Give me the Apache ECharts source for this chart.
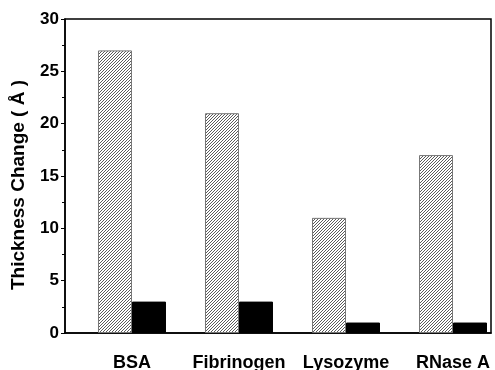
<!DOCTYPE html>
<html>
<head>
<meta charset="utf-8">
<script src="https://cdn.jsdelivr.net/npm/echarts@6/dist/echarts.min.js"></script>
<style>html,body{margin:0;padding:0;background:#fff}#c{width:495px;height:370px}</style>
</head>
<body>
<div id="c"></div>
<script>
const categories = ['BSA', 'Fibrinogen', 'Lysozyme', 'RNase A'];
const hatchedValues = [27, 21, 11, 17];
const solidValues = [3, 3, 1, 1];
const yTicks = [0, 5, 10, 15, 20, 25, 30];

const catPos = categories.map((c, i) => i + 1);

// hatch pattern tile
const tile = document.createElement('canvas');
tile.width = 3; tile.height = 3;
const tc = tile.getContext('2d');
tc.fillStyle = '#ffffff';
tc.fillRect(0, 0, 3, 3);
tc.fillStyle = '#5a5a5a';
for (let i = 0; i < 3; i++) tc.fillRect(i, 2 - i, 1, 1);

const font = '"Liberation Sans", Arial, Helvetica, sans-serif';
const chart = echarts.init(document.getElementById('c'));
chart.setOption({
  animation: false,
  grid: { left: 65, top: 19, right: 4, bottom: 37, containLabel: false, outerBoundsMode: 'none',
          show: true, borderColor: '#000', borderWidth: 1.5, backgroundColor: 'transparent' },
  xAxis: {
    type: 'value', min: 0.374, max: 4.355,
    splitLine: { show: false },
    axisLine: { show: true, lineStyle: { color: '#000', width: 1.5 } },
    axisTick: { show: false },
    axisLabel: {
      customValues: catPos,
      formatter: v => categories[Math.round(v) - 1] || '',
      margin: 21, fontSize: 18, fontWeight: 'bold', color: '#000', fontFamily: font
    }
  },
  yAxis: {
    type: 'value', min: yTicks[0], max: yTicks[yTicks.length - 1], interval: 5,
    name: 'Thickness Change ( Å )', nameLocation: 'middle', nameGap: 37,
    nameTextStyle: { fontSize: 19, fontWeight: 'bold', color: '#000', fontFamily: font, padding: [0, 18, 0, 0] },
    splitLine: { show: false },
    axisLine: { show: true, lineStyle: { color: '#000', width: 1.5 } },
    axisTick: { show: true, length: 4, lineStyle: { color: '#000' } },
    minorTick: { show: true, splitNumber: 2, length: 3, lineStyle: { color: '#000' } },
    axisLabel: { margin: 6, fontSize: 17, fontWeight: 'bold', color: '#000', fontFamily: font }
  },
  series: [
    {
      type: 'bar', barWidth: 34, barGap: '0%',
      data: hatchedValues.map((v, i) => [catPos[i], v]),
      itemStyle: { color: { image: tile, repeat: 'repeat' }, borderColor: '#777', borderWidth: 1 }
    },
    {
      type: 'bar', barWidth: 34, barGap: '0%',
      data: solidValues.map((v, i) => [catPos[i], v]),
      itemStyle: { color: '#000', borderColor: '#000', borderWidth: 1 }
    }
  ]
});
</script>
</body>
</html>
